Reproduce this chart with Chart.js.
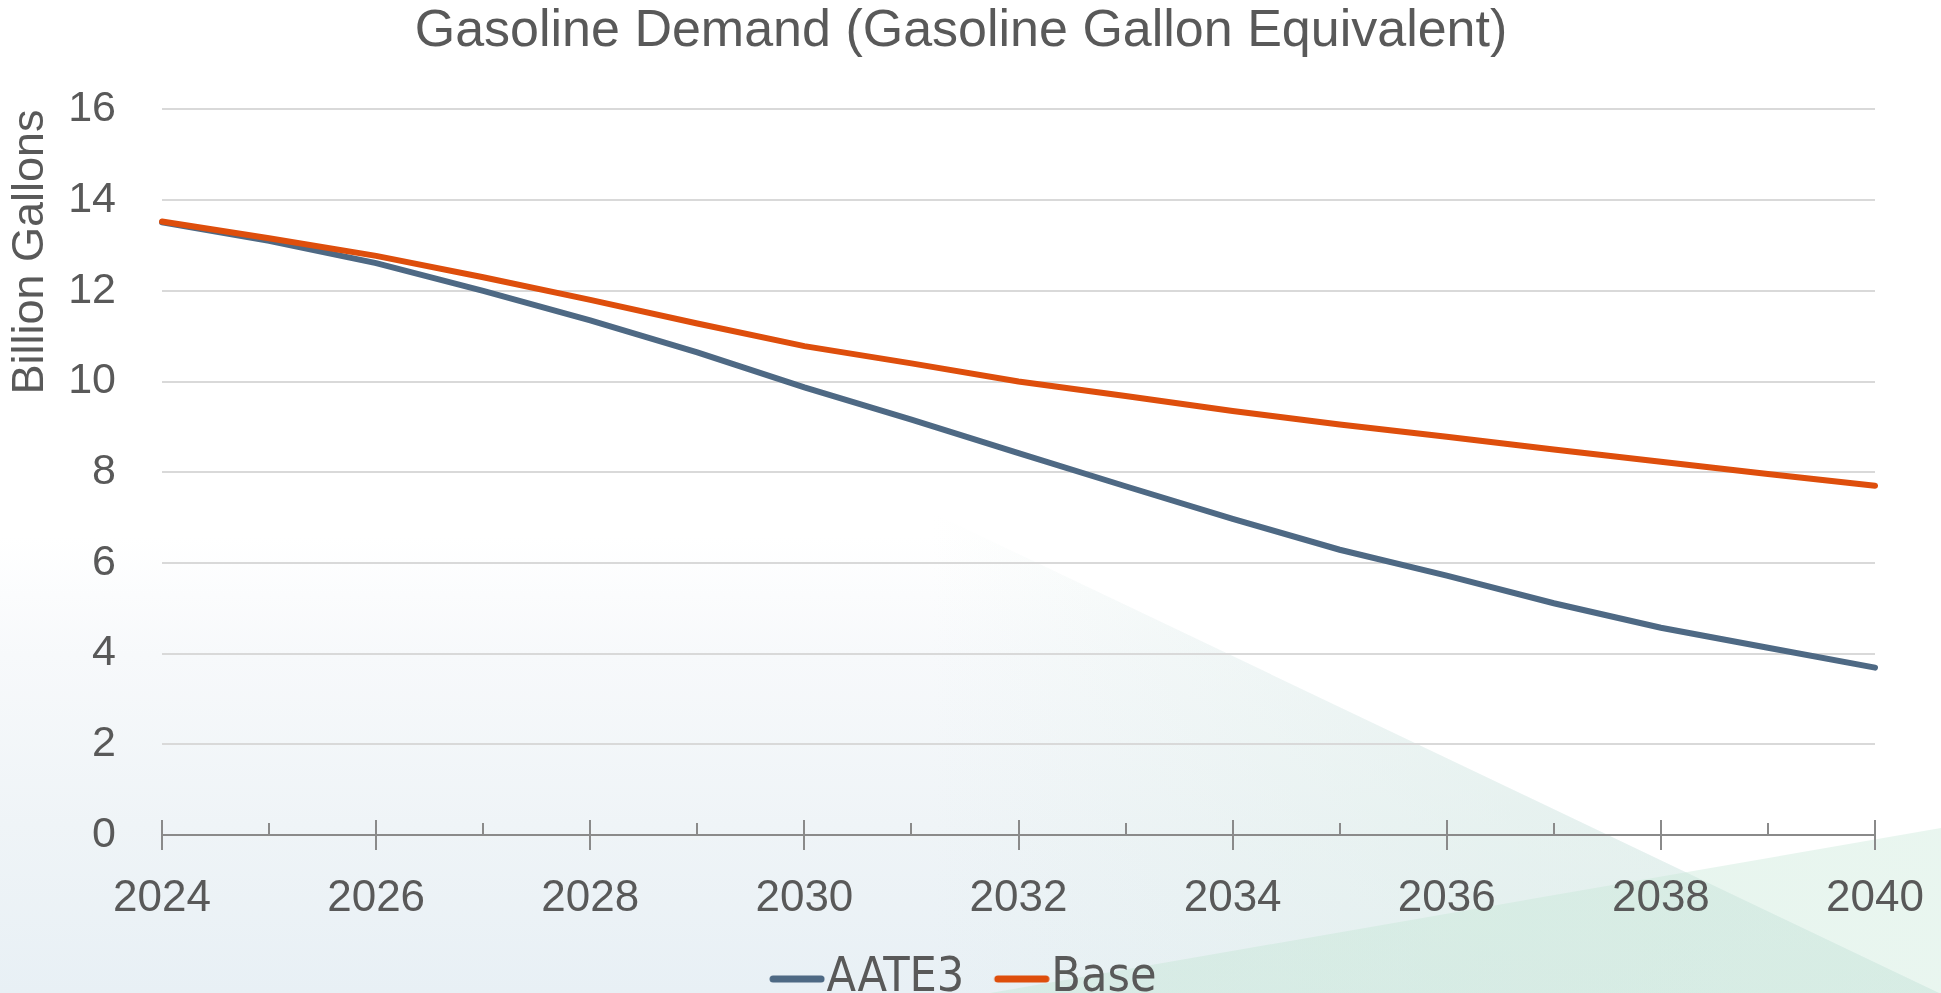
<!DOCTYPE html>
<html lang="en">
<head>
  <meta charset="UTF-8">
  <title>Gasoline Demand</title>
  <style>
    html, body {
      margin: 0;
      padding: 0;
      width: 1941px;
      height: 993px;
      overflow: hidden;
      background: #ffffff;
    }
    body {
      position: relative;
    }
    .layer {
      position: absolute;
      left: 0;
      top: 0;
      width: 1941px;
      height: 993px;
    }
    /* big soft wedge under the first diagonal */
    #wedge {
      background:
        linear-gradient(90deg, rgba(222,239,232,0) 48%, rgba(222,239,232,0.5) 78%, rgba(222,239,232,0.65) 100%),
        linear-gradient(180deg, #ffffff 0%, #ffffff 54%, #f7f9fb 66%, #eff4f7 83%, #e8f0f5 100%);
      clip-path: polygon(0px 68px, 1941px 994px, 0px 993px);
    }
    /* green band in the bottom right */
    #band {
      background: linear-gradient(90deg, rgba(196,228,212,0.55) 0%, rgba(200,232,216,0.4) 100%);
      clip-path: polygon(990px 993px, 1941px 828px, 1941px 993px);
    }
  </style>
  <script src="https://cdn.jsdelivr.net/npm/chart.js"></script>
</head>
<body>
  <div class="layer" id="wedge"></div>
  <div class="layer" id="band"></div>
  <div class="layer">
    <canvas id="chart" width="1941" height="993"></canvas>
  </div>

  <script>
    // values
    const years = ['2024', '2025', '2026', '2027', '2028', '2029', '2030', '2031', '2032',
                   '2033', '2034', '2035', '2036', '2037', '2038', '2039', '2040'];
    const aate3 = [13.51, 13.10, 12.61, 12.00, 11.35, 10.64, 9.87, 9.16, 8.42,
                   7.69, 6.97, 6.29, 5.72, 5.11, 4.57, 4.13, 3.69];
    const base = [13.53, 13.16, 12.77, 12.30, 11.80, 11.28, 10.78, 10.40, 10.00,
                  9.68, 9.35, 9.05, 8.78, 8.50, 8.23, 7.96, 7.70];
    const yTicks = [0, 2, 4, 6, 8, 10, 12, 14, 16];

    const textColor = '#595959';
    const fontFamily = "'Liberation Sans', Arial, sans-serif";
    const narrowFamily = "'Liberation Sans Narrow', 'Arial Narrow', 'DejaVu Sans Condensed', sans-serif";

    // legend swatch: a short round-capped line that runs right up to the label
    function legendLine(color) {
      const c = document.createElement('canvas');
      c.width = 82;
      c.height = 12;
      const g = c.getContext('2d');
      g.strokeStyle = color;
      g.lineWidth = 7;
      g.lineCap = 'round';
      g.beginPath();
      g.moveTo(30, 6);
      g.lineTo(78, 6);
      g.stroke();
      return c;
    }

    // small ticks above the axis for odd years, long crossing ticks for labelled years
    const axisTicks = {
      id: 'axisTicks',
      afterDraw(chart) {
        const ctx = chart.ctx;
        const x = chart.scales.x;
        const y0 = chart.scales.y.getPixelForValue(0);
        ctx.save();
        ctx.strokeStyle = '#8a8a8a';
        ctx.lineWidth = 2;
        years.forEach((yr, i) => {
          const px = Math.round(x.getPixelForValue(i));
          ctx.beginPath();
          if (i % 2 === 0) {
            ctx.moveTo(px, y0 - 15);
            ctx.lineTo(px, y0 + 15);
          } else {
            ctx.moveTo(px, y0 - 12);
            ctx.lineTo(px, y0);
          }
          ctx.stroke();
        });
        ctx.restore();
      }
    };

    new Chart(document.getElementById('chart'), {
      type: 'line',
      data: {
        labels: years,
        datasets: [
          {
            label: 'AATE3',
            data: aate3,
            borderColor: '#4e6984',
            backgroundColor: '#4e6984',
            borderWidth: 6,
            borderCapStyle: 'round',
            pointRadius: 0,
            tension: 0,
            order: 1
          },
          {
            label: 'Base',
            data: base,
            borderColor: '#de4e0c',
            backgroundColor: '#de4e0c',
            borderWidth: 6,
            borderCapStyle: 'round',
            pointRadius: 0,
            tension: 0,
            order: 0
          }
        ]
      },
      options: {
        responsive: false,
        animation: false,
        layout: {
          padding: { left: 47, right: 66, top: 0, bottom: -20 }
        },
        plugins: {
          title: {
            display: true,
            text: 'Gasoline Demand (Gasoline Gallon Equivalent)',
            color: textColor,
            font: { family: fontFamily, size: 52, weight: 'normal', lineHeight: 1.2 },
            padding: { top: 0, bottom: 47 }
          },
          legend: {
            position: 'bottom',
            labels: {
              color: textColor,
              font: { family: narrowFamily, size: 48, lineHeight: 1.05 },
              usePointStyle: true,
              pointStyleWidth: 37,
              padding: 26,
              generateLabels: chart => chart.data.datasets.map((ds, i) => ({
                text: ds.label,
                datasetIndex: i,
                strokeStyle: ds.borderColor,
                fillStyle: ds.borderColor,
                lineWidth: 0,
                pointStyle: legendLine(ds.borderColor),
                fontColor: textColor,
                hidden: false
              }))
            }
          },
          tooltip: { enabled: false }
        },
        scales: {
          x: {
            type: 'category',
            offset: false,
            grid: { display: false, drawTicks: true, tickLength: 37 },
            border: { display: true, color: '#8a8a8a', width: 2 },
            ticks: {
              color: textColor,
              font: { family: fontFamily, size: 44 },
              padding: 0,
              autoSkip: false,
              maxRotation: 0,
              callback: function (val, idx) {
                return idx % 2 === 0 ? this.getLabelForValue(val) : '';
              }
            },
            afterFit: s => { s.height = 94; }
          },
          y: {
            min: 0,
            max: 16,
            afterBuildTicks: s => { s.ticks = yTicks.map(v => ({ value: v })); },
            grid: { color: '#d9d9d9', lineWidth: 2, drawTicks: false },
            border: { display: false },
            ticks: {
              color: textColor,
              font: { family: fontFamily, size: 43 },
              padding: 46
            },
            title: {
              display: true,
              text: 'Billion Gallons',
              align: 'end',
              color: textColor,
              font: { family: fontFamily, size: 45, lineHeight: 1.2 },
              padding: { top: -43, bottom: 0 }
            },
            afterFit: s => { s.width = 115; }
          }
        }
      },
      plugins: [axisTicks]
    });
  </script>
</body>
</html>
